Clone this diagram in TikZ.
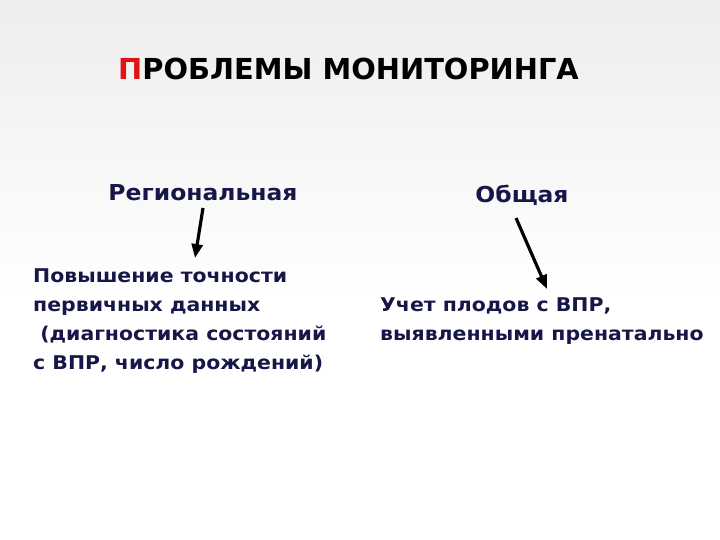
\documentclass[tikz,border=0pt]{standalone}
\usepackage{fontspec}
\setmainfont{DejaVu Sans}
\newfontfamily\bodyfont{DejaVu Sans Bold}[FakeStretch=1.08]
\newfontfamily\headfont{DejaVu Sans Bold}[FakeStretch=1.07]
\newfontfamily\titlefont{DejaVu Sans Bold}[FakeStretch=1.0]
\definecolor{navy}{RGB}{22,22,72}
\definecolor{titlered}{RGB}{225,20,20}
\usetikzlibrary{arrows.meta}
\tikzset{
  body/.style={font=\bodyfont\fontsize{19}{29}\selectfont, text=navy, inner sep=0pt, align=left},
  head/.style={font=\headfont\fontsize{22}{29}\selectfont, text=navy, inner sep=0pt},
  arr/.style={-{Triangle[length=14pt,width=11pt]}, line width=3.2pt, black}
}
\begin{document}
\begin{tikzpicture}[x=1bp,y=-1bp]
\useasboundingbox (0,0) rectangle (720,540);
\shade[top color=black!7, bottom color=white] (0,0) rectangle (720,300);
\fill[white] (0,300) rectangle (720,540);
\node[anchor=base west, inner sep=0pt, font=\titlefont\fontsize{29}{34}\selectfont] (title) at (118,80) {\textcolor{titlered}{П}РОБЛЕМЫ МОНИТОРИНГА};
\node[head, anchor=base] (reg) at (203,201) {Региональная};
\node[head, anchor=base] (gen) at (522,203) {Общая};
\node[body, anchor=base west] (left) at (33,369) {Повышение точности\\первичных данных\\\ (диагностика состояний\\с ВПР, число рождений)};
\node[body, anchor=base west] (right) at (380,340) {Учет плодов с ВПР,\\выявленными пренатально};
\coordinate (la) at (203,208);
\coordinate (lb) at (195,258);
\coordinate (ra) at (516,218);
\coordinate (rb) at (547,289);
\draw[arr] (la) -- (lb);
\draw[arr] (ra) -- (rb);
\end{tikzpicture}
\end{document}
